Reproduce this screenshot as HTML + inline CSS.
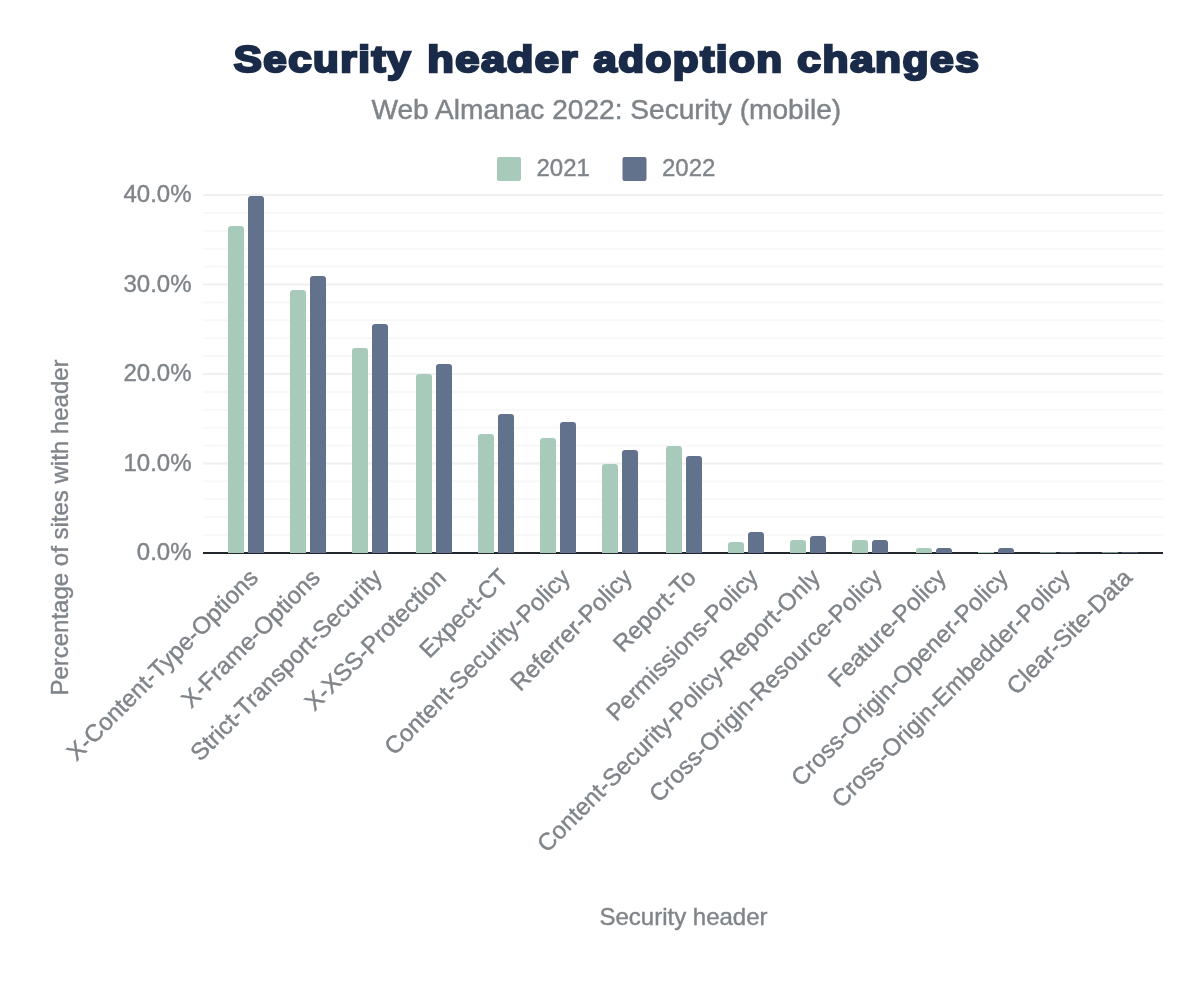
<!DOCTYPE html>
<html lang="en">
<head>
<meta charset="utf-8">
<title>Security header adoption changes</title>
<style>
html,body{margin:0;padding:0;background:#fff;}
body{width:1200px;height:992px;overflow:hidden;font-family:"Liberation Sans",sans-serif;}
svg{display:block;}
text{font-family:"Liberation Sans",sans-serif;}
.t{fill:#7f8489;font-size:24px;stroke:#7f8489;stroke-width:0.4px;}
.title{fill:#1a2b49;font-weight:bold;font-size:36.6px;stroke:#1a2b49;stroke-width:2.4px;stroke-linejoin:miter;stroke-miterlimit:2.5;letter-spacing:1.3px;}
.sub{fill:#7f8489;font-size:28.12px;stroke:#7f8489;stroke-width:0.45px;}
</style>
</head>
<body>
<svg width="1200" height="992" viewBox="0 0 1200 992">
<rect x="0" y="0" width="1200" height="992" fill="#ffffff"/>
<g class="title">
<text transform="translate(233.64 71.75) scale(1.1514 1)">Security</text>
<text transform="translate(427.23 71.75) scale(1.1879 1)">header</text>
<text transform="translate(593.23 71.75) scale(1.1549 1)">adoption</text>
<text transform="translate(797.32 71.75) scale(1.1619 1)">changes</text>
</g>
<text class="sub" x="606.3" y="118.5" text-anchor="middle">Web Almanac 2022: Security (mobile)</text>
<rect x="497" y="157" width="24" height="24" rx="2" fill="#a8cabb"/>
<text class="t" x="536.5" y="175.5">2021</text>
<rect x="622.5" y="157" width="24" height="24" rx="2" fill="#62718c"/>
<text class="t" x="662" y="175.5">2022</text>
<g>
<rect x="203" y="534.10" width="960" height="2" fill="#f8f8f8"/>
<rect x="203" y="516.20" width="960" height="2" fill="#f8f8f8"/>
<rect x="203" y="498.30" width="960" height="2" fill="#f8f8f8"/>
<rect x="203" y="480.40" width="960" height="2" fill="#f8f8f8"/>
<rect x="203" y="462.50" width="960" height="2" fill="#f0f0f0"/>
<rect x="203" y="444.60" width="960" height="2" fill="#f8f8f8"/>
<rect x="203" y="426.70" width="960" height="2" fill="#f8f8f8"/>
<rect x="203" y="408.80" width="960" height="2" fill="#f8f8f8"/>
<rect x="203" y="390.90" width="960" height="2" fill="#f8f8f8"/>
<rect x="203" y="373.00" width="960" height="2" fill="#f0f0f0"/>
<rect x="203" y="355.10" width="960" height="2" fill="#f8f8f8"/>
<rect x="203" y="337.20" width="960" height="2" fill="#f8f8f8"/>
<rect x="203" y="319.30" width="960" height="2" fill="#f8f8f8"/>
<rect x="203" y="301.40" width="960" height="2" fill="#f8f8f8"/>
<rect x="203" y="283.50" width="960" height="2" fill="#f0f0f0"/>
<rect x="203" y="265.60" width="960" height="2" fill="#f8f8f8"/>
<rect x="203" y="247.70" width="960" height="2" fill="#f8f8f8"/>
<rect x="203" y="229.80" width="960" height="2" fill="#f8f8f8"/>
<rect x="203" y="211.90" width="960" height="2" fill="#f8f8f8"/>
<rect x="203" y="194.00" width="960" height="2" fill="#f0f0f0"/>
</g>
<text class="t" x="191.5" y="560.30" text-anchor="end">0.0%</text>
<text class="t" x="191.5" y="470.80" text-anchor="end">10.0%</text>
<text class="t" x="191.5" y="381.30" text-anchor="end">20.0%</text>
<text class="t" x="191.5" y="291.80" text-anchor="end">30.0%</text>
<text class="t" x="191.5" y="202.30" text-anchor="end">40.0%</text>
<rect x="203" y="552" width="960" height="2" fill="#23262d"/>
<path d="M228 553 V229.2 Q228 226 231.2 226 H240.8 Q244 226 244 229.2 V553 Z" fill="#a8cabb"/>
<path d="M248 553 V199.2 Q248 196 251.2 196 H260.8 Q264 196 264 199.2 V553 Z" fill="#62718c"/>
<path d="M290 553 V293.2 Q290 290 293.2 290 H302.8 Q306 290 306 293.2 V553 Z" fill="#a8cabb"/>
<path d="M310 553 V279.2 Q310 276 313.2 276 H322.8 Q326 276 326 279.2 V553 Z" fill="#62718c"/>
<path d="M352 553 V351.2 Q352 348 355.2 348 H364.8 Q368 348 368 351.2 V553 Z" fill="#a8cabb"/>
<path d="M372 553 V327.2 Q372 324 375.2 324 H384.8 Q388 324 388 327.2 V553 Z" fill="#62718c"/>
<path d="M416 553 V377.2 Q416 374 419.2 374 H428.8 Q432 374 432 377.2 V553 Z" fill="#a8cabb"/>
<path d="M436 553 V367.2 Q436 364 439.2 364 H448.8 Q452 364 452 367.2 V553 Z" fill="#62718c"/>
<path d="M478 553 V437.2 Q478 434 481.2 434 H490.8 Q494 434 494 437.2 V553 Z" fill="#a8cabb"/>
<path d="M498 553 V417.2 Q498 414 501.2 414 H510.8 Q514 414 514 417.2 V553 Z" fill="#62718c"/>
<path d="M540 553 V441.2 Q540 438 543.2 438 H552.8 Q556 438 556 441.2 V553 Z" fill="#a8cabb"/>
<path d="M560 553 V425.2 Q560 422 563.2 422 H572.8 Q576 422 576 425.2 V553 Z" fill="#62718c"/>
<path d="M602 553 V467.2 Q602 464 605.2 464 H614.8 Q618 464 618 467.2 V553 Z" fill="#a8cabb"/>
<path d="M622 553 V453.2 Q622 450 625.2 450 H634.8 Q638 450 638 453.2 V553 Z" fill="#62718c"/>
<path d="M666 553 V449.2 Q666 446 669.2 446 H678.8 Q682 446 682 449.2 V553 Z" fill="#a8cabb"/>
<path d="M686 553 V459.2 Q686 456 689.2 456 H698.8 Q702 456 702 459.2 V553 Z" fill="#62718c"/>
<path d="M728 553 V545.2 Q728 542 731.2 542 H740.8 Q744 542 744 545.2 V553 Z" fill="#a8cabb"/>
<path d="M748 553 V535.2 Q748 532 751.2 532 H760.8 Q764 532 764 535.2 V553 Z" fill="#62718c"/>
<path d="M790 553 V543.2 Q790 540 793.2 540 H802.8 Q806 540 806 543.2 V553 Z" fill="#a8cabb"/>
<path d="M810 553 V539.2 Q810 536 813.2 536 H822.8 Q826 536 826 539.2 V553 Z" fill="#62718c"/>
<path d="M852 553 V543.2 Q852 540 855.2 540 H864.8 Q868 540 868 543.2 V553 Z" fill="#a8cabb"/>
<path d="M872 553 V543.2 Q872 540 875.2 540 H884.8 Q888 540 888 543.2 V553 Z" fill="#62718c"/>
<path d="M916 553 V551.2 Q916 548 919.2 548 H928.8 Q932 548 932 551.2 V553 Z" fill="#a8cabb"/>
<path d="M936 553 V551.2 Q936 548 939.2 548 H948.8 Q952 548 952 551.2 V553 Z" fill="#62718c"/>
<rect x="978" y="552" width="16" height="1" fill="#a8cabb"/>
<path d="M998 553 V551.2 Q998 548 1001.2 548 H1010.8 Q1014 548 1014 551.2 V553 Z" fill="#62718c"/>
<rect x="1040" y="552.3" width="16" height="0.7" fill="#a8cabb"/>
<rect x="1060" y="552.3" width="16" height="0.7" fill="#62718c"/>
<rect x="1102" y="552.3" width="16" height="0.7" fill="#a8cabb"/>
<rect x="1122" y="552.3" width="16" height="0.7" fill="#62718c"/>
<text class="t" text-anchor="end" transform="translate(259.5 579.0) rotate(-45)">X-Content-Type-Options</text>
<text class="t" text-anchor="end" transform="translate(321.5 579.0) rotate(-45)">X-Frame-Options</text>
<text class="t" text-anchor="end" transform="translate(383.5 579.0) rotate(-45)">Strict-Transport-Security</text>
<text class="t" text-anchor="end" transform="translate(447.5 579.0) rotate(-45)">X-XSS-Protection</text>
<text class="t" text-anchor="end" transform="translate(509.5 579.0) rotate(-45)">Expect-CT</text>
<text class="t" text-anchor="end" transform="translate(571.5 579.0) rotate(-45)">Content-Security-Policy</text>
<text class="t" text-anchor="end" transform="translate(633.5 579.0) rotate(-45)">Referrer-Policy</text>
<text class="t" text-anchor="end" transform="translate(697.5 579.0) rotate(-45)">Report-To</text>
<text class="t" text-anchor="end" transform="translate(759.5 579.0) rotate(-45)">Permissions-Policy</text>
<text class="t" text-anchor="end" transform="translate(821.5 579.0) rotate(-45)">Content-Security-Policy-Report-Only</text>
<text class="t" text-anchor="end" transform="translate(883.5 579.0) rotate(-45)">Cross-Origin-Resource-Policy</text>
<text class="t" text-anchor="end" transform="translate(947.5 579.0) rotate(-45)">Feature-Policy</text>
<text class="t" text-anchor="end" transform="translate(1009.5 579.0) rotate(-45)">Cross-Origin-Opener-Policy</text>
<text class="t" text-anchor="end" transform="translate(1071.5 579.0) rotate(-45)">Cross-Origin-Embedder-Policy</text>
<text class="t" text-anchor="end" transform="translate(1133.5 579.0) rotate(-45)">Clear-Site-Data</text>
<text class="t" text-anchor="middle" transform="translate(68.3 527.5) rotate(-90)">Percentage of sites with header</text>
<text class="t" x="683.5" y="924.5" text-anchor="middle">Security header</text>
</svg>
</body>
</html>
